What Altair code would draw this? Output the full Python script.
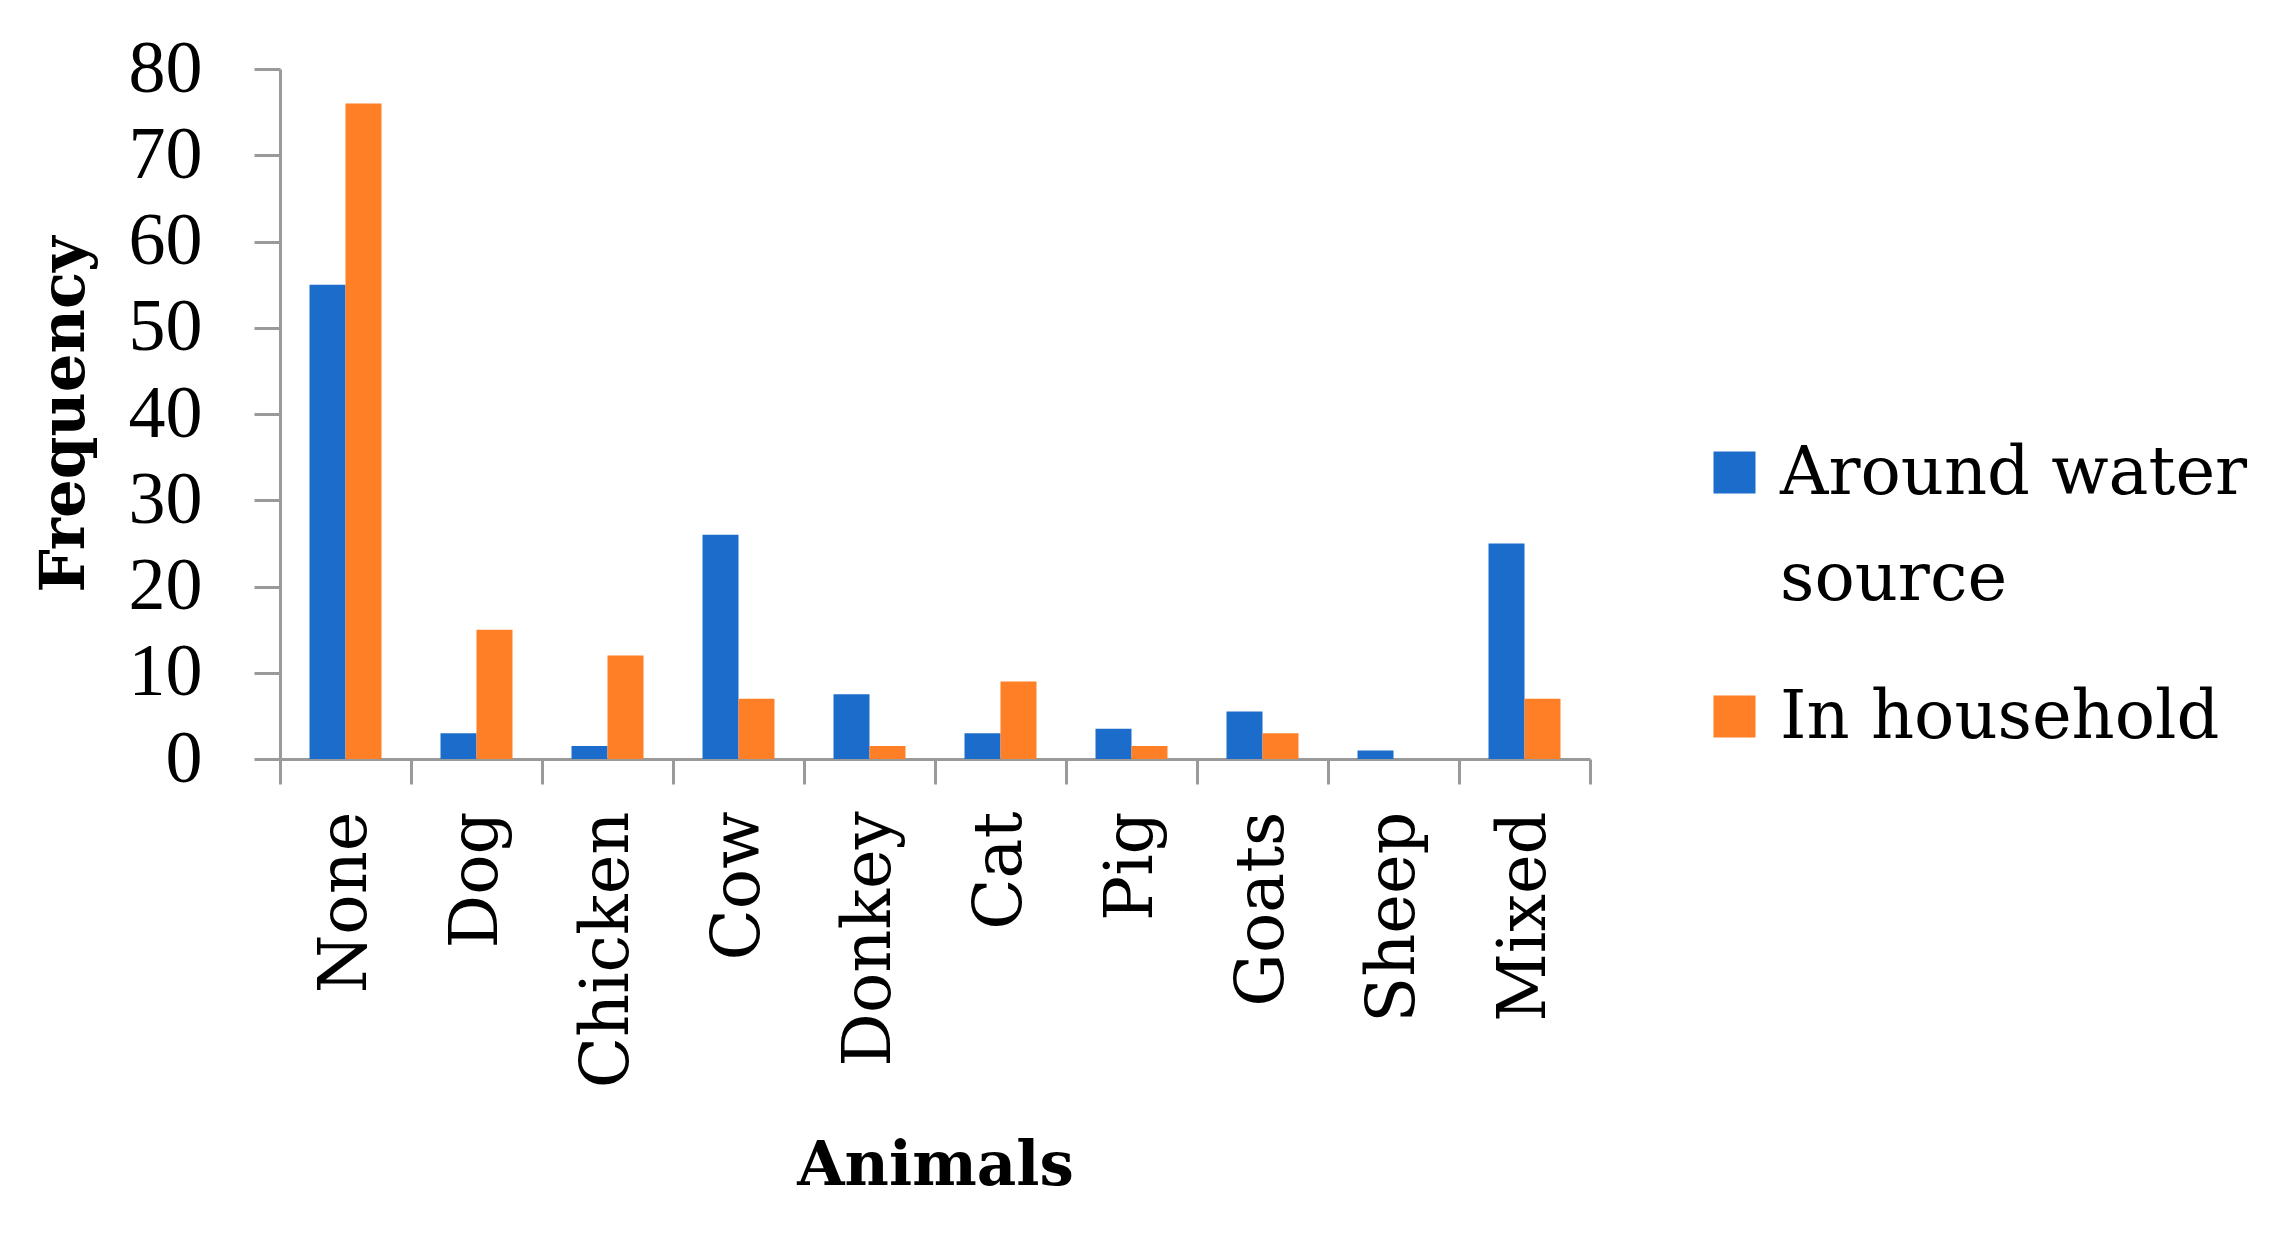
import altair as alt
import pandas as pd

animals = ["None", "Dog", "Chicken", "Cow", "Donkey", "Cat", "Pig", "Goats", "Sheep", "Mixed"]
series = ["Around water source", "In household"]
around_water = [55, 3, 1.5, 26, 7.5, 3, 3.5, 5.5, 1, 25]
in_household = [76, 15, 12, 7, 1.5, 9, 1.5, 3, 0, 7]
y_ticks = [0, 10, 20, 30, 40, 50, 60, 70, 80]
colors = ["#1C6DCB", "#FE7F26"]

rows = []
for a, v1, v2 in zip(animals, around_water, in_household):
    rows.append({"animal": a, "group": series[0], "value": v1})
    rows.append({"animal": a, "group": series[1], "value": v2})
df = pd.DataFrame(rows)

axis_gray = "#9A9A9A"

chart = alt.Chart(df).mark_bar().encode(
    x=alt.X(
        "animal:N",
        sort=animals,
        scale=alt.Scale(paddingInner=0, paddingOuter=0),
        axis=alt.Axis(
            title="Animals",
            titleFont="DejaVu Serif",
            titleFontWeight="bold",
            titleFontSize=61,
            titleColor="black",
            titleX=655,
            titleY=407,
            titleBaseline="middle",
            titleAlign="center",
            labelAngle=270,
            labelAlign="right",
            labelBaseline="middle",
            labelFont="DejaVu Serif",
            labelFontSize=67,
            labelColor="black",
            labelPadding=27,
            labelLimit=600,
            tickBand="extent",
            tickSize=25,
            tickWidth=3,
            tickColor=axis_gray,
            domainColor=axis_gray,
            domainWidth=3,
            grid=False,
        ),
    ),
    xOffset=alt.XOffset(
        "group:N",
        sort=series,
        scale=alt.Scale(paddingInner=0, paddingOuter=0.82),
    ),
    y=alt.Y(
        "value:Q",
        scale=alt.Scale(domain=[0, 80], nice=False),
        axis=alt.Axis(
            title="Frequency",
            titleFont="DejaVu Serif",
            titleFontWeight="bold",
            titleFontSize=61,
            titleColor="black",
            titleAngle=270,
            titleAlign="center",
            titleBaseline="alphabetic",
            titleX=-197,
            titleY=345,
            values=y_ticks,
            labelFont="Liberation Serif",
            labelFontSize=74,
            labelColor="black",
            labelPadding=52,
            tickSize=26,
            tickWidth=3,
            tickColor=axis_gray,
            domainColor=axis_gray,
            domainWidth=3,
            grid=False,
        ),
    ),
    color=alt.Color(
        "group:N",
        sort=series,
        scale=alt.Scale(domain=series, range=colors),
        legend=alt.Legend(
            title=None,
            orient="none",
            legendX=1421,
            legendY=391,
            symbolType="M-1,-2H1V0H-1Z",
            symbolSize=1764,
            symbolStrokeWidth=0,
            labelFont="DejaVu Serif",
            labelFontSize=67,
            labelColor="black",
            labelBaseline="alphabetic",
            labelOffset=12,
            labelLimit=1000,
            rowPadding=70,
            labelExpr="datum.label == 'Around water source' ? ['Around water', 'source'] : datum.label",
        ),
    ),
).properties(
    width=1310,
    height=690,
    padding={"left": 272, "top": 61, "right": 676, "bottom": 450},
    autosize=alt.AutoSizeParams(type="none"),
    background="white",
).configure(
    style={"guide-label": {"lineHeight": 106}},
    view=alt.ViewConfig(stroke="transparent"),
)

chart.save("out.html", embed_options={"renderer": "svg", "actions": False})
